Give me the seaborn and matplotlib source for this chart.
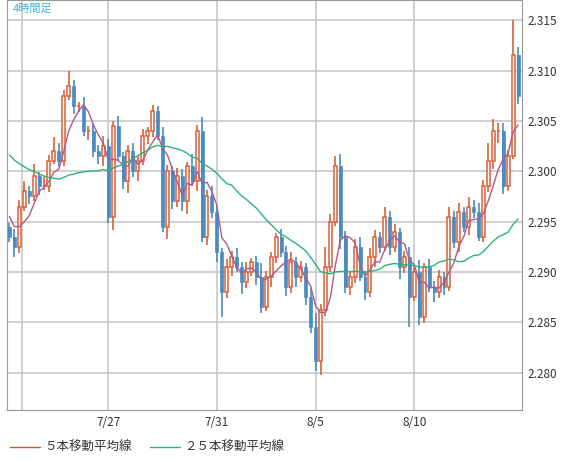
import numpy as np
import pandas as pd
import matplotlib
matplotlib.use('Agg')
import matplotlib.pyplot as plt
import seaborn as sns

sns.set_style('white')
plt.rcParams['font.family'] = ['Noto Sans CJK JP', 'DejaVu Sans']

# warmup closes (before visible window, only for the moving averages)
warmup = [2.3055, 2.3050, 2.3060, 2.3045, 2.3040, 2.3050, 2.3035, 2.3045, 2.3040, 2.3030,
          2.3035, 2.3025, 2.3040, 2.3030, 2.3020, 2.3025, 2.3015, 2.3005, 2.2995, 2.2990,
          2.2975, 2.2965, 2.2955, 2.2945]

closes = [2.2935, 2.2925, 2.2965, 2.2980, 2.2975, 2.2995, 2.2985, 2.2985, 2.3010, 2.3020,
          2.3010, 2.3075, 2.3085, 2.3065, 2.3065, 2.3040, 2.3040, 2.3020, 2.3015, 2.3025,
          2.2955, 2.3045, 2.3015, 2.2990, 2.3020, 2.3000, 2.3010, 2.3035, 2.3040, 2.3060,
          2.3035, 2.2945, 2.3000, 2.2970, 2.2995, 2.2970, 2.3005, 2.2990, 2.3040, 2.2935,
          2.2975, 2.2960, 2.2920, 2.2880, 2.2905, 2.2915, 2.2905, 2.2890, 2.2900, 2.2910,
          2.2895, 2.2865, 2.2895, 2.2915, 2.2935, 2.2920, 2.2885, 2.2910, 2.2895, 2.2905,
          2.2875, 2.2845, 2.2812, 2.2862, 2.2905, 2.2950, 2.3005, 2.2935, 2.2885, 2.2895,
          2.2925, 2.2895, 2.2880, 2.2915, 2.2935, 2.2925, 2.2955, 2.2925, 2.2940, 2.2905,
          2.2915, 2.2875, 2.2900, 2.2855, 2.2905, 2.2885, 2.2880, 2.2895, 2.2885, 2.2955,
          2.2930, 2.2960, 2.2945, 2.2965, 2.2960, 2.2935, 2.2985, 2.3010, 2.3040, 2.3040,
          2.2985, 2.3015, 2.3115, 2.3075]

# wick lengths in pips (0.0001)
wick_up = [4, 8, 6, 10, 5, 12, 4, 9, 6, 14,
           8, 6, 15, 6, 4, 9, 5, 8, 6, 10,
           7, 5, 10, 4, 6, 8, 5, 7, 4, 6,
           5, 9, 6, 5, 8, 7, 4, 12, 6, 14,
           6, 10, 5, 4, 8, 6, 9, 5, 10, 4,
           6, 14, 6, 5, 4, 8, 6, 10, 5, 6,
           4, 9, 14, 6, 20, 8, 10, 12, 6, 5,
           8, 10, 6, 9, 7, 5, 10, 6, 8, 4,
           6, 10, 5, 12, 4, 8, 6, 7, 5, 10,
           6, 8, 5, 9, 6, 8, 6, 18, 12, 8,
           8, 6, 35, 8]
wick_dn = [5, 10, 6, 4, 8, 5, 9, 4, 6, 3,
           6, 5, 4, 8, 6, 5, 9, 6, 8, 10,
           6, 13, 5, 8, 12, 6, 10, 4, 8, 6,
           4, 5, 12, 7, 5, 9, 12, 5, 10, 5,
           8, 6, 10, 25, 6, 9, 5, 12, 6, 4,
           8, 6, 4, 10, 6, 5, 9, 6, 10, 5,
           8, 6, 10, 14, 6, 5, 4, 12, 6, 8,
           6, 4, 8, 5, 10, 6, 4, 8, 5, 12,
           6, 30, 4, 8, 6, 5, 10, 6, 8, 4,
           6, 10, 5, 8, 6, 4, 5, 6, 8, 12,
           8, 5, 3, 8]

day_ticks = [20, 42, 62, 82]
day_labels = ['7/27', '7/31', '8/5', '8/10']
y_ticks = [2.280, 2.285, 2.290, 2.295, 2.300, 2.305, 2.310, 2.315]

allc = pd.Series(warmup + closes)
ma5 = allc.rolling(5).mean().iloc[len(warmup):].values
ma25 = allc.rolling(25).mean().iloc[len(warmup):].values
c = np.array(closes)
o = np.array([warmup[-1]] + closes[:-1])
hi = np.maximum(o, c) + np.array(wick_up) * 1e-4
lo = np.minimum(o, c) - np.array(wick_dn) * 1e-4
idx = np.arange(len(c))

UP = '#d9603b'
DN = '#4a8bc2'

fig = plt.figure(figsize=(5.74, 4.62), dpi=100, facecolor='white')
ax = fig.add_axes([7/574, 52/462, 515/574, 410/462])
for x in day_ticks + [2.5]:
    ax.axvline(x, color='#c8c8c8', lw=1.2, zorder=0)
for yv in y_ticks:
    ax.axhline(yv, color='#c8c8c8', lw=1.2, zorder=0)

up = c >= o
ax.vlines(idx, lo, hi, color=np.where(up, UP, DN), lw=1.2, zorder=2)
ax.bar(idx[up], (c - o)[up], bottom=o[up], width=0.6, color='white',
       edgecolor=UP, linewidth=1.1, zorder=3)
ax.bar(idx[~up], (o - c)[~up], bottom=c[~up], width=0.6, color=DN,
       edgecolor=DN, linewidth=0.5, zorder=3)

sns.lineplot(x=idx, y=ma5, ax=ax, color='#b05a8a', lw=1.0, zorder=4)
sns.lineplot(x=idx, y=ma25, ax=ax, color='#2db37a', lw=1.0, zorder=4)

ax.set_xlim(-0.5, len(c) - 0.2)
ax.set_ylim(2.2763, 2.3170)
ax.set_xticks(day_ticks)
ax.set_xticklabels(day_labels, fontsize=8.5, color='#333333')
ax.set_yticks(y_ticks)
ax.set_yticklabels([f'{v:.3f}' for v in y_ticks], fontsize=8.5, color='#333333')
ax.yaxis.tick_right()
ax.tick_params(length=0, pad=4)
for s in ax.spines.values():
    s.set_color('#999999')
ax.text(0.012, 0.99, '4時間足', transform=ax.transAxes, fontsize=8,
        color='#3bb0e0', va='top')

fig.lines.append(plt.Line2D([10/574, 40/574], [15/462, 15/462], color='#c0583a',
                            lw=1, transform=fig.transFigure))
fig.text(44/574, 15/462, '５本移動平均線', fontsize=9, va='center', color='#333333')
fig.lines.append(plt.Line2D([150/574, 180/574], [15/462, 15/462], color='#2db37a',
                            lw=1, transform=fig.transFigure))
fig.text(184/574, 15/462, '２５本移動平均線', fontsize=9, va='center', color='#333333')

fig.savefig('out.png', dpi=100, facecolor='white')
